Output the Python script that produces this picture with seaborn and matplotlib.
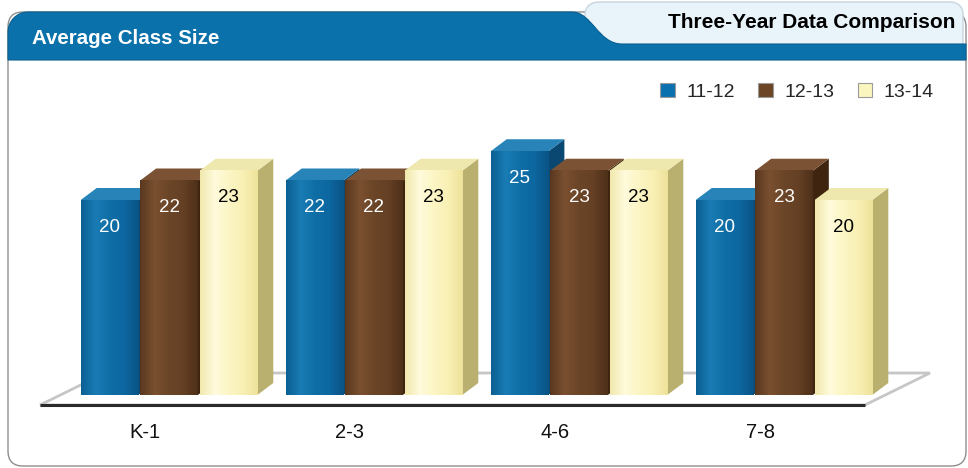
import matplotlib
matplotlib.use("Agg")
import matplotlib.pyplot as plt
import matplotlib.transforms as mtransforms
from matplotlib.colors import LinearSegmentedColormap
from matplotlib.patches import FancyBboxPatch, PathPatch, Polygon, Patch
from matplotlib.path import Path
import numpy as np
import pandas as pd
import seaborn as sns

# data
categories = ["K-1", "2-3", "4-6", "7-8"]
years = ["11-12", "12-13", "13-14"]
size_11_12 = [20, 22, 25, 20]
size_12_13 = [22, 22, 23, 23]
size_13_14 = [23, 23, 23, 20]

W, H, DPI = 968, 468, 100

front_colors = ["#0e6ca4", "#6b4527", "#fcf5c2"]
# left-to-right shading of each bar's front face
shade_colors = [
    ["#0c5f92", "#1a7cb5", "#0f6ea6", "#0d67a0", "#0a5486"],
    ["#5a3820", "#7a5030", "#6b4527", "#654024", "#4e3019"],
    ["#f1e8ae", "#fffbdc", "#fcf5c4", "#f9f0b5", "#eee29a"],
]
top_colors = ["#2783b8", "#7b5233", "#efe8ae"]
side_colors = ["#0a4872", "#3f2510", "#b9b06f"]
label_colors = ["white", "white", "black"]

df = pd.DataFrame({
    "grade": categories * 3,
    "year": np.repeat(years, len(categories)),
    "size": size_11_12 + size_12_13 + size_13_14,
})

sns.set_theme(style="white")
plt.rcParams["font.family"] = ["Liberation Sans", "DejaVu Sans"]

fig = plt.figure(figsize=(W / DPI, H / DPI), dpi=DPI)
# pixel coordinates, origin bottom-left
pix = mtransforms.Affine2D().scale(1 / DPI) + fig.dpi_scale_trans


def py(y):
    return H - y


# --- panel frame and header tabs ---
panel = FancyBboxPatch((8, py(466)), 958, 454, boxstyle="round,pad=0,rounding_size=15",
                       transform=pix, fc="white", ec="#8e8e8e", lw=1, zorder=0)
fig.add_artist(panel)

tab_path = Path(
    [(585, py(50)), (585, py(15)), (585, py(6)), (591, py(2)), (600, py(2)),
     (950, py(2)), (958, py(2)), (963, py(7)), (963, py(14)), (963, py(50)), (585, py(50))],
    [Path.MOVETO, Path.LINETO, Path.CURVE4, Path.CURVE4, Path.CURVE4,
     Path.LINETO, Path.CURVE4, Path.CURVE4, Path.CURVE4, Path.LINETO, Path.CLOSEPOLY])
fig.add_artist(PathPatch(tab_path, transform=pix, fc="#e8f3fa", ec="#c8d5de", lw=1, zorder=0.5))

band_path = Path(
    [(8, py(60)), (8, py(32)), (8, py(21)), (17, py(12)), (28, py(12)),
     (572, py(12)), (592, py(12)), (598, py(44)), (622, py(44)),
     (966, py(44)), (966, py(60)), (8, py(60))],
    [Path.MOVETO, Path.LINETO, Path.CURVE4, Path.CURVE4, Path.CURVE4,
     Path.LINETO, Path.CURVE4, Path.CURVE4, Path.CURVE4,
     Path.LINETO, Path.LINETO, Path.CLOSEPOLY])
fig.add_artist(PathPatch(band_path, transform=pix, fc="#0b71ab", ec="#0a5f90", lw=0.8, zorder=0.6))

fig.text(32, py(38), "Average Class Size", transform=pix, color="white",
         fontsize=14.8, fontweight="bold", va="center", ha="left", zorder=1)
fig.text(955, py(22), "Three-Year Data Comparison", transform=pix, color="black",
         fontsize=15, fontweight="bold", va="center", ha="right", zorder=1)

# --- chart axes: x px = 169 + 205 * x, y px = 395 - 9.75 * y ---
ax = fig.add_axes([0, (H - 410) / H, 1, 340 / H])
ax.set_zorder(2)
ax.patch.set_visible(False)

sns.barplot(data=df, x="grade", y="size", hue="year", palette=front_colors,
            width=0.87, gap=0.03, saturation=1, legend=False, ax=ax, edgecolor="none")

# seaborn draws one hue level after the other
bars = [(j // len(categories), b) for j, b in enumerate(ax.patches)]
bars.sort(key=lambda t: t[1].get_x())

XPX, YPX = 205, 9.75
DX, DY = 16 / XPX, 12 / YPX

# floor under the bars
fy0, fy1 = -10 / YPX, 22 / YPX
fx0, fx1 = -0.5 - 0.129, len(categories) - 0.5 - 0.105
shift = 65 / XPX
floor = Polygon([(fx0, fy0), (fx1, fy0), (fx1 + shift, fy1), (fx0 + shift, fy1)],
                closed=True, fc="white", ec="#c6c6c6", lw=2, zorder=1, clip_on=False)
ax.add_patch(floor)
ax.plot([fx0, fx1], [fy0, fy0], color="#2a2a2a", lw=2.2, zorder=1.5,
        solid_capstyle="butt", clip_on=False)

for i, (k, bar) in enumerate(bars):
    z = 3 + i * 0.1
    x0, w, h = bar.get_x(), bar.get_width(), bar.get_height()
    x1 = x0 + w
    side = Polygon([(x1, 0), (x1 + DX, DY), (x1 + DX, h + DY), (x1, h)],
                   closed=True, fc=side_colors[k], ec="none", zorder=z)
    top = Polygon([(x0, h), (x1, h), (x1 + DX, h + DY), (x0 + DX, h + DY)],
                  closed=True, fc=top_colors[k], ec="none", zorder=z + 0.01)
    ax.add_patch(side)
    ax.add_patch(top)
    bar.set_zorder(z + 0.02)
    cmap = LinearSegmentedColormap.from_list(f"g{k}", shade_colors[k])
    ax.imshow(np.linspace(0, 1, 64)[None, :], cmap=cmap, extent=(x0, x1, 0, h),
              aspect="auto", interpolation="bilinear", zorder=z + 0.03)
    ax.text(x0 + w / 2, h - 27 / YPX, f"{h:.0f}", ha="center", va="center",
            fontsize=13.5, color=label_colors[k], zorder=z + 0.05)

ax.set_xlim(-169 / XPX, (W - 169) / XPX)
ax.set_ylim((395 - 410) / YPX, (395 - 70) / YPX)

ax.set_yticks([])
ax.set_xlabel("")
ax.set_ylabel("")
for s in ax.spines.values():
    s.set_visible(False)
ax.tick_params(axis="x", length=0, pad=9, labelsize=14.5, labelcolor="#111111")
offset = mtransforms.ScaledTranslation(-24 / DPI, 0, fig.dpi_scale_trans)
for lbl in ax.get_xticklabels():
    lbl.set_transform(lbl.get_transform() + offset)

handles = [Patch(fc=c, ec="#9a9a9a", lw=0.8) for c in ["#0b70ae", "#6b4526", "#fbf5c0"]]
ax.legend(handles, years, loc="center right", bbox_to_anchor=(934, py(92)),
          bbox_transform=pix, ncol=3, frameon=False, fontsize=14,
          handlelength=0.75, handleheight=0.75, handletextpad=0.6,
          columnspacing=1.2, borderaxespad=0, borderpad=0)

fig.savefig("out.png", dpi=DPI)
